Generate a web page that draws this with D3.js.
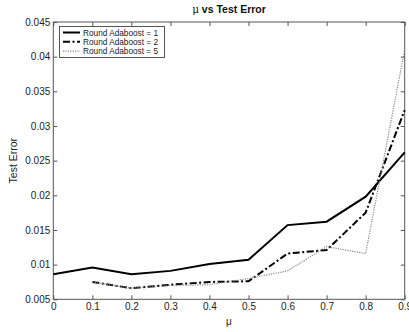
<!DOCTYPE html>
<html><head><meta charset="utf-8">
<script src="https://cdn.jsdelivr.net/npm/d3@7"></script>
<style>body{margin:0;background:#fff}svg{display:block}text{font-family:"Liberation Sans",Arial,sans-serif}</style>
</head><body>
<svg id="c" width="409" height="332"></svg>
<script>
const muValues = [0, 0.1, 0.2, 0.3, 0.4, 0.5, 0.6, 0.7, 0.8, 0.9];
const round1 = [0.0086, 0.0096, 0.0086, 0.0091, 0.0101, 0.0107, 0.0157, 0.0162, 0.0198, 0.0262];
const round2 = [null, 0.0075, 0.0066, 0.0071, 0.0075, 0.0076, 0.0116, 0.0121, 0.0175, 0.0323];
const round5 = [null, 0.0075, 0.0066, 0.0070, 0.0071, 0.0080, 0.0091, 0.0126, 0.0116, 0.0410];
const xTicks = [0, 0.1, 0.2, 0.3, 0.4, 0.5, 0.6, 0.7, 0.8, 0.9];
const yTicks = [0.005, 0.01, 0.015, 0.02, 0.025, 0.03, 0.035, 0.04, 0.045];
const seriesNames = ["Round Adaboost = 1", "Round Adaboost = 2", "Round Adaboost = 5"];

const svg = d3.select("#c");
const L = 53.3, R = 404.7, T = 22, B = 299.3;
const x = d3.scaleLinear().domain([0, 0.9]).range([L, R]);
const y = d3.scaleLinear().domain([0.005, 0.045]).range([B, T]);

svg.append("rect").attr("x", L).attr("y", T).attr("width", R - L).attr("height", B - T)
  .attr("fill", "none").attr("stroke", "#555").attr("stroke-width", 1);

const xa = svg.append("g").attr("transform", `translate(0,${B})`)
  .call(d3.axisBottom(x).tickValues(xTicks).tickFormat(d3.format("~g")).tickSizeInner(-4).tickSizeOuter(0).tickPadding(4));
const xt = svg.append("g").attr("transform", `translate(0,${T})`)
  .call(d3.axisTop(x).tickValues(xTicks).tickFormat("").tickSizeInner(-4).tickSizeOuter(0));
const ya = svg.append("g").attr("transform", `translate(${L},0)`)
  .call(d3.axisLeft(y).tickValues(yTicks).tickFormat(d3.format("~g")).tickSizeInner(-4).tickSizeOuter(0).tickPadding(3));
const yr = svg.append("g").attr("transform", `translate(${R},0)`)
  .call(d3.axisRight(y).tickValues(yTicks).tickFormat("").tickSizeInner(-4).tickSizeOuter(0));
[xa, xt, ya, yr].forEach(g => {
  g.select(".domain").remove();
  g.selectAll("line").attr("stroke", "#555");
  g.selectAll("text").attr("font-size", 10).attr("fill", "#222").attr("font-family", "Liberation Sans, Arial, sans-serif");
});

const styles = [
  {stroke: "#000", width: 2, dash: null},
  {stroke: "#000", width: 2, dash: "7,2.5,2,2.5"},
  {stroke: "#888", width: 1.2, dash: "1.2,1.2"}
];
const data = [round1, round2, round5];
const line = d3.line().defined(d => d[1] !== null).x(d => x(d[0])).y(d => y(d[1]));
data.forEach((s, i) => {
  const pts = muValues.map((m, j) => [m, s[j]]);
  svg.append("path").attr("d", line(pts)).attr("fill", "none")
    .attr("stroke", styles[i].stroke).attr("stroke-width", styles[i].width)
    .attr("stroke-dasharray", styles[i].dash).attr("stroke-linejoin", "miter");
});

const lg = svg.append("g");
lg.append("rect").attr("x", 59.5).attr("y", 26.5).attr("width", 105).attr("height", 31)
  .attr("fill", "#fff").attr("stroke", "#555");
seriesNames.forEach((n, i) => {
  const yy = 32.5 + i * 9.3;
  lg.append("line").attr("x1", 63).attr("x2", 80).attr("y1", yy).attr("y2", yy)
    .attr("stroke", styles[i].stroke).attr("stroke-width", styles[i].width).attr("stroke-dasharray", styles[i].dash);
  lg.append("text").attr("x", 83).attr("y", yy + 3.2).attr("font-size", 8.6).attr("fill", "#222")
    .attr("textLength", 75).attr("lengthAdjust", "spacingAndGlyphs").text(n);
});

const title = svg.append("text").attr("x", (L + R) / 2).attr("y", 13).attr("text-anchor", "middle")
  .attr("font-size", 10.5).attr("font-weight", "bold").attr("fill", "#111");
title.append("tspan").attr("font-family", "DejaVu Serif, serif").attr("font-weight", "normal").text("μ");
title.append("tspan").text(" vs Test Error");
svg.append("text").attr("x", (L + R) / 2).attr("y", 325).attr("text-anchor", "middle")
  .attr("font-size", 10).attr("fill", "#222").attr("font-family", "DejaVu Serif, serif").text("μ");
svg.append("text").attr("transform", `translate(17,${(T + B) / 2}) rotate(-90)`).attr("text-anchor", "middle")
  .attr("font-size", 10.5).attr("fill", "#222").text("Test Error");
</script>
</body></html>
